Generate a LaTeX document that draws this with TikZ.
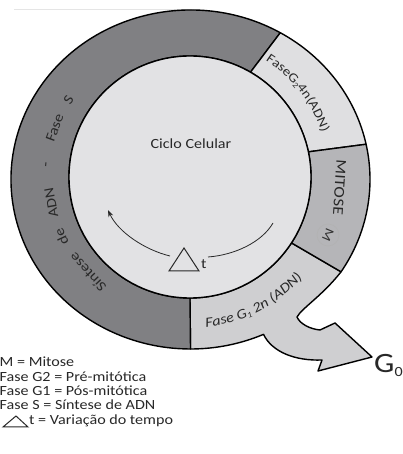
\documentclass[tikz,border=0pt]{standalone}
\usepackage{fontspec}
\setmainfont[FakeStretch=1.15]{Carlito}
\usetikzlibrary{calc,decorations.text,arrows.meta}
\definecolor{cS}{RGB}{128,128,131}
\definecolor{cGtwo}{RGB}{223,223,225}
\definecolor{cM}{RGB}{181,181,184}
\definecolor{cGone}{RGB}{207,207,209}
\definecolor{cIn}{RGB}{226,226,228}
\definecolor{ink}{RGB}{40,40,40}
\begin{document}
\begin{tikzpicture}[x=1pt,y=1pt,
  sector/.style={draw=black, line width=1.4pt, line join=round},
  ringtxt/.style={font=\fontsize{14}{16}\selectfont, text=ink, inner sep=0pt},
  leg/.style={font=\fontsize{14}{16}\selectfont, text=ink, inner sep=0pt, anchor=base west},
  flowline/.style={draw=ink, line width=0.8pt},
  triline/.style={draw=ink, line width=1pt, line join=miter}]
\useasboundingbox (0,0) rectangle (403,454);
\fill[white] (0,0) rectangle (403,454);
\draw[gray!20, line width=0.6pt] (14,445) -- (192,445);
\coordinate (C) at (190,277);
\coordinate (O) at (190.5,274.5);
% G1 sector with the arrow to G0
\draw[sector, fill=cGone] ($(O)+(-90:179.5pt and 169.5pt)$)
  arc[start angle=-90, end angle=-66, x radius=179.5pt, y radius=169.5pt]
  .. controls (272,102) and (295,93) .. (322,94) -- (318,83) -- (372,97) -- (335,131) -- (320,124)
  .. controls (310,125) and (300,130) .. (297,137)
  .. controls (302,146) and (322,158) .. ($(O)+(-33:179.5pt and 169.5pt)$)
  -- ($(C)+(-33:121pt)$) arc[start angle=-33, end angle=-90, radius=121pt] -- cycle;
% S sector
\draw[sector, fill=cS] ($(O)+(60:179.5pt and 169.5pt)$)
  arc[start angle=60, end angle=270, x radius=179.5pt, y radius=169.5pt]
  -- ($(C)+(270:121pt)$) arc[start angle=270, end angle=60, radius=121pt] -- cycle;
% G2 sector
\draw[sector, fill=cGtwo] ($(O)+(12:179.5pt and 169.5pt)$)
  arc[start angle=12, end angle=60, x radius=179.5pt, y radius=169.5pt]
  -- ($(C)+(60:121pt)$) arc[start angle=60, end angle=12, radius=121pt] -- cycle;
% Mitose sector
\draw[sector, fill=cM] ($(O)+(-33:179.5pt and 169.5pt)$)
  arc[start angle=-33, end angle=12, x radius=179.5pt, y radius=169.5pt]
  -- ($(C)+(12:121pt)$) arc[start angle=12, end angle=-33, radius=121pt] -- cycle;
% inner circle
\draw[sector, fill=cIn] (C) circle[radius=121pt];
% centre texts
\node[font=\fontsize{14}{16}\selectfont, text=ink, inner sep=0pt, anchor=base] (ciclo) at (191,305) {Ciclo Celular};
\draw[triline] (169,183) -- (184,206) -- (199,183) -- cycle;
\node[font=\fontsize{14}{16}\selectfont, text=ink, inner sep=0pt, anchor=base west] (tt) at (201,185) {t};
\coordinate (la) at (170,198);
\coordinate (lb) at (108,244);
\coordinate (ra) at (208,197);
\coordinate (rb) at (273,231);
\draw[flowline, -{Stealth[length=7pt,width=5pt]}] (la) .. controls (145,204) and (118,222) .. (lb);
\draw[flowline] (ra) .. controls (235,199) and (262,212) .. (rb);
% S ring words
\node[ringtxt, rotate=133] (w1) at ($(C)+(223:140pt)$) {Síntese};
\node[ringtxt, rotate=115] (w2) at ($(C)+(205:142pt)$) {de};
\node[ringtxt, rotate=100.5] (w3) at ($(C)+(190.5:141pt)$) {ADN};
\node[ringtxt, rotate=85] (w4) at ($(C)+(175:143pt)$) {-};
\node[ringtxt, rotate=70] (w5) at ($(C)+(160:144pt)$) {Fase};
\node[ringtxt, rotate=57.5] (w6) at ($(C)+(147.5:144pt)$) {S};
% MITOSE
\node[ringtxt, font=\fontsize{15}{17}\selectfont, rotate=-94] (mit) at ($(C)+(-4:150pt)$) {MITOSE};
\node[draw=gray!60, line width=0.6pt, circle, minimum size=22pt, inner sep=0pt, text=gray!40!black, font=\fontsize{13}{15}\selectfont, rotate=-113] (mc) at (328,219) {M};
% G2 text
\path[decorate, decoration={text along path, text color=ink, text align=left,
  text={|\fontsize{13}{15}\selectfont|FaseG{\raisebox{-2pt}{\fontsize{8}{9}\selectfont 2}}4n(ADN)}}]
  ($(C)+(57:139pt)$) arc[start angle=57, end angle=5, radius=139pt];
% G1 text
\path[decorate, decoration={text along path, text color=ink, text align=left,
  text={|\itshape\fontsize{14}{16}\selectfont|Fase G{\raisebox{-2pt}{\fontsize{8}{9}\selectfont 1}} 2n (ADN)}}]
  ($(C)+(-84:151pt)$) arc[start angle=-84, end angle=-20, radius=151pt];
% G0
\node[anchor=base west, inner sep=0pt, text=ink, font=\fontsize{28}{30}\selectfont] (g0) at (374,81) {G\raisebox{-4pt}{\fontsize{14}{16}\selectfont 0}};
% legend
\node[leg] (l1) at (-0.5,87) {M = Mitose};
\node[leg] (l2) at (-0.5,72) {Fase G2 = Pré-mitótica};
\node[leg] (l3) at (-0.5,58) {Fase G1 = Pós-mitótica};
\node[leg] (l4) at (-0.5,44) {Fase S = Síntese de ADN};
\draw[triline] (3,27) -- (16,38) -- (28,27) -- cycle;
\node[leg] (l5) at (29,29) {t = Variação do tempo};
\end{tikzpicture}
\end{document}
